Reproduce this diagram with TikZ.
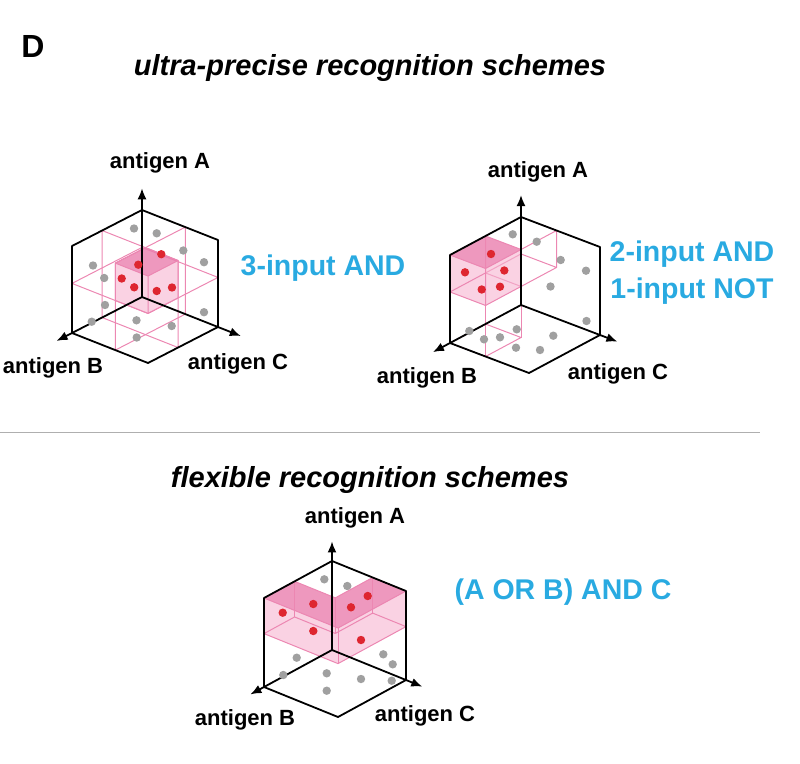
\documentclass[tikz,border=0pt]{standalone}
\usepackage{fontspec}
\setmainfont{Liberation Sans}
\usetikzlibrary{arrows.meta}
\definecolor{pinkline}{RGB}{236,135,178}
\definecolor{pinkdark}{RGB}{228,95,155}
\definecolor{pinklight}{RGB}{246,180,208}
\definecolor{dotgrey}{RGB}{160,160,160}
\definecolor{dotred}{RGB}{222,38,48}
\definecolor{labblue}{RGB}{41,170,225}
\definecolor{rulegrey}{RGB}{175,175,175}
\begin{document}
\begin{tikzpicture}[x=1pt,y=-1pt,
  edgeline/.style={line width=1.8pt, line join=round},
  axisline/.style={line width=1.8pt, -{Latex[length=11pt,width=9pt]}},
  partline/.style={draw=pinkline, line width=1pt, line join=round},
  silfill/.style={fill=pinklight, fill opacity=0.6},
  topfill/.style={fill=pinkdark, fill opacity=0.5},
  gdot/.style={fill=dotgrey},
  rdot/.style={fill=dotred},
  axlab/.style={font=\fontsize{22}{26}\selectfont\bfseries, inner sep=0pt},
  bluelab/.style={font=\fontsize{28.5}{37}\selectfont\bfseries, text=labblue, inner sep=0pt, align=center},
  titlelab/.style={font=\fontsize{29}{34}\selectfont\bfseries\itshape, inner sep=0pt}]
\useasboundingbox (0,0) rectangle (800,763);

% ---------- texts ----------
\node[font=\fontsize{32}{36}\selectfont\bfseries, inner sep=0pt] (panel) at (33,46) {D};
\node[titlelab] (title1) at (370,68) {ultra-precise recognition schemes};
\node[titlelab] (title2) at (370,480) {flexible recognition schemes};
\coordinate (r1) at (0,432);
\coordinate (r2) at (760,432);
\draw[rulegrey, line width=1pt] (r1) -- (r2);

% ---------- cube 1 ----------
\begin{scope}[shift={(142,297)}, x={(-70pt,-36pt)}, y={(76pt,-30pt)}, z={(0pt,87pt)}]
  \draw[partline] (0,0,.57)--(1,0,.57)--(1,1,.57)--(0,1,.57)--cycle;
  \draw[partline] (.57,0,0)--(.57,1,0)--(.57,1,1)--(.57,0,1)--cycle;
  \draw[partline] (0,.57,0)--(1,.57,0)--(1,.57,1)--(0,.57,1)--cycle;
  \fill[silfill] (.57,.57,1)--(1,.57,1)--(1,.57,.57)--(1,1,.57)--(.57,1,.57)--(.57,1,1)--cycle;
  \fill[topfill] (.57,.57,1)--(1,.57,1)--(1,1,1)--(.57,1,1)--cycle;
  \draw[partline] (.57,.57,1)--(1,.57,1)--(1,.57,.57)--(1,1,.57)--(.57,1,.57)--(.57,1,1)--cycle;
  \draw[partline] (1,.57,1)--(1,1,1)--(.57,1,1) (1,1,1)--(1,1,.57);
  \draw[edgeline] (0,0,1)--(1,0,1)--(1,0,0)--(1,1,0)--(0,1,0)--(0,1,1)--cycle;
  \coordinate (o1) at (0,0,0);
  \coordinate (a1) at (0,0,1.25);
  \coordinate (b1) at (1.22,0,0);
  \coordinate (c1) at (0,1.3,0);
\end{scope}
\draw[axisline] (o1) -- (a1);
\draw[axisline] (o1) -- (b1);
\draw[axisline] (o1) -- (c1);
\foreach \p in {(134,228.5),(156.7,233.3),(183.3,250.5),(204,262.2),(93,265.5),(104.2,278),
  (105,305),(91.7,321.7),(136.5,320.3),(171.7,326),(136.7,337.5),(204,312.2)}
  \fill[gdot] \p circle (4.2pt);
\foreach \p in {(161.3,254.2),(138.3,264.7),(121.7,278.5),(134.2,287.3),(156.7,291),(172,287.5)}
  \fill[rdot] \p circle (4.2pt);
\node[axlab] (A1) at (160,163) {antigen A};
\node[axlab] (B1) at (53,368) {antigen B};
\node[axlab] (C1) at (238,364) {antigen C};
\node[bluelab] (L1) at (323,268) {3-input AND};

% ---------- cube 2 ----------
\begin{scope}[shift={(521,305)}, x={(-71pt,-38pt)}, y={(79pt,-30pt)}, z={(0pt,88pt)}]
  % column below the pink cube
  \draw[partline] (.5,0,0)--(1,0,0)--(1,.45,0)--(.5,.45,0)--cycle;
  \draw[partline] (.5,0,0)--(.5,0,.58) (.5,.45,0)--(.5,.45,.58) (1,.45,0)--(1,.45,.58);
  % wire box
  \draw[partline] (0,0,1)--(0,.45,1)--(.5,.45,1) (0,.45,1)--(0,.45,.58)
     (0,0,.58)--(0,.45,.58)--(.5,.45,.58)--(.5,0,.58)--cycle;
  % pink cube
  \fill[silfill] (.5,0,1)--(1,0,1)--(1,0,.58)--(1,.45,.58)--(.5,.45,.58)--(.5,.45,1)--cycle;
  \fill[topfill] (.5,0,1)--(1,0,1)--(1,.45,1)--(.5,.45,1)--cycle;
  \draw[partline] (.5,0,1)--(1,0,1)--(1,0,.58)--(1,.45,.58)--(.5,.45,.58)--(.5,.45,1)--cycle;
  \draw[partline] (1,0,1)--(1,.45,1)--(.5,.45,1) (1,.45,1)--(1,.45,.58)
     (.5,0,1)--(.5,0,.58)--(1,0,.58);
  \draw[edgeline] (0,0,1)--(1,0,1)--(1,0,0)--(1,1,0)--(0,1,0)--(0,1,1)--cycle;
  \coordinate (o2) at (0,0,0);
  \coordinate (a2) at (0,0,1.25);
  \coordinate (b2) at (1.24,0,0);
  \coordinate (c2) at (0,1.22,0);
\end{scope}
\draw[axisline] (o2) -- (a2);
\draw[axisline] (o2) -- (b2);
\draw[axisline] (o2) -- (c2);
\foreach \p in {(512.7,234.3),(536.7,241.7),(560.7,260),(586,270.7),(550.5,286.5),(586.5,321),
  (469.3,331),(484,339.3),(500,337.3),(516.7,329.3),(516,347.7),(553.3,335.7),(540,350)}
  \fill[gdot] \p circle (4.2pt);
\foreach \p in {(491,254),(465,272.3),(504.3,270.5),(481.7,289.5),(500,286.7)}
  \fill[rdot] \p circle (4.2pt);
\node[axlab] (A2) at (538,172) {antigen A};
\node[axlab] (B2) at (427,378) {antigen B};
\node[axlab] (C2) at (618,374) {antigen C};
\node[bluelab] (L2) at (692,273) {2-input AND\\1-input NOT};

% ---------- cube 3 ----------
\begin{scope}[shift={(332,650)}, x={(-68pt,-37pt)}, y={(74pt,-30pt)}, z={(0pt,89pt)}]
  \fill[silfill] (.55,0,1)--(1,0,1)--(1,0,.6)--(1,1,.6)--(.55,1,.6)--(.55,1,1)--cycle
                 (0,.55,1)--(.55,.55,1)--(.55,.55,.6)--(.55,1,.6)--(0,1,.6)--(0,1,1)--cycle;
  \fill[topfill] (1,0,1)--(.55,0,1)--(.55,.55,1)--(0,.55,1)--(0,1,1)--(1,1,1)--cycle;
  \draw[partline] (1,0,1)--(.55,0,1)--(.55,.55,1)--(0,.55,1)--(0,1,1)--(1,1,1)--cycle;
  \draw[partline] (1,0,.6)--(.55,0,.6)--(.55,.55,.6)--(0,.55,.6)--(0,1,.6)--(1,1,.6)--cycle;
  \draw[partline] (1,0,1)--(1,0,.6) (1,1,1)--(1,1,.6) (0,1,1)--(0,1,.6)
     (.55,0,1)--(.55,0,.6) (.55,.55,1)--(.55,.55,.6) (0,.55,1)--(0,.55,.6);
  \draw[edgeline] (0,0,1)--(1,0,1)--(1,0,0)--(1,1,0)--(0,1,0)--(0,1,1)--cycle;
  \coordinate (o3) at (0,0,0);
  \coordinate (a3) at (0,0,1.22);
  \coordinate (b3) at (1.2,0,0);
  \coordinate (c3) at (0,1.22,0);
\end{scope}
\draw[axisline] (o3) -- (a3);
\draw[axisline] (o3) -- (b3);
\draw[axisline] (o3) -- (c3);
\foreach \p in {(324.3,579.3),(347.3,586),(296.7,657.7),(283.3,675),(326.7,673.3),(326.7,690.7),
  (361,679),(383.3,654.3),(392.7,664.3),(391.7,680.7)}
  \fill[gdot] \p circle (4.2pt);
\foreach \p in {(313.3,604),(282.7,612.7),(351,607.3),(367.7,596),(313.3,631),(361,640)}
  \fill[rdot] \p circle (4.2pt);
\node[axlab] (A3) at (355,518) {antigen A};
\node[axlab] (B3) at (245,720) {antigen B};
\node[axlab] (C3) at (425,716) {antigen C};
\node[bluelab] (L3) at (563,592) {(A OR B) AND C};
\end{tikzpicture}
\end{document}
